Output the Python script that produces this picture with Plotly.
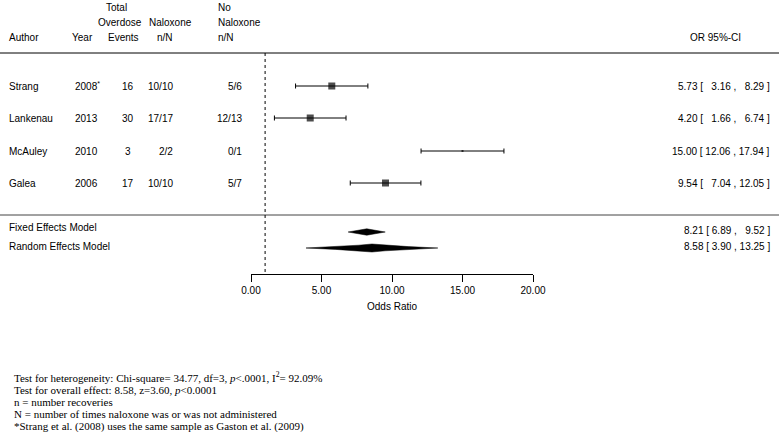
import plotly.graph_objects as go

# ---------------- data ----------------
authors = ["Strang", "Lankenau", "McAuley", "Galea"]
years = ["2008<sup>*</sup>", "2013", "2010", "2006"]
events = [16, 30, 3, 17]
naloxone_nN = ["10/10", "17/17", "2/2", "10/10"]
no_naloxone_nN = ["5/6", "12/13", "0/1", "5/7"]
or_est = [5.73, 4.20, 15.00, 9.54]
ci_lo = [3.16, 1.66, 12.06, 7.04]
ci_hi = [8.29, 6.74, 17.94, 12.05]

models = ["Fixed Effects Model", "Random Effects Model"]
model_est = [8.21, 8.58]
model_lo = [6.89, 3.90]
model_hi = [9.52, 13.25]

tick_vals = [0, 5, 10, 15, 20]
axis_title = "Odds Ratio"

footnotes = [
    "Test for heterogeneity: Chi-square= 34.77, df=3, <i>p</i>&lt;.0001, I<sup>2</sup>= 92.09%",
    "Test for overall effect: 8.58, z=3.60, <i>p</i>&lt;0.0001",
    "n = number recoveries",
    "N = number of times naloxone was or was not administered",
    "*Strang et al. (2008) uses the same sample as Gaston et al. (2009)",
]

# ---------------- layout constants (pixels) ----------------
W, H = 779, 432
study_y = [86, 118, 151, 183]
model_text_y = [227, 246]
model_diamond_y = [232, 248]
model_half_h = [3.2, 4.0]
model_concave = [False, True]
box_px = [7, 7, 2, 7]
SANS = "Liberation Sans, Arial, Helvetica, sans-serif"
SERIF = "Liberation Serif, Times New Roman, serif"


def px(x):
    return x / W


def fmt_col(vals):
    wide = any(v >= 10 for v in vals)
    out = []
    for v in vals:
        s = f"{v:.2f}"
        if wide and v < 10:
            s = "\u00a0\u00a0" + s
        out.append(s)
    return out


fig = go.Figure()

# study CIs + boxes
fig.add_trace(go.Scatter(
    x=or_est, y=study_y, mode="markers",
    marker=dict(symbol="square", size=box_px, color="black", line=dict(width=0)),
    error_x=dict(type="data", symmetric=False,
                 array=[h - e for h, e in zip(ci_hi, or_est)],
                 arrayminus=[e - l for e, l in zip(or_est, ci_lo)],
                 color="black", thickness=1, width=2.5),
    hoverinfo="skip", showlegend=False,
))

# summary diamonds
for est, lo, hi, yc, hh, concave in zip(model_est, model_lo, model_hi,
                                         model_diamond_y, model_half_h, model_concave):
    if concave:
        fr = [1.0, 0.55, 0.2, 0.0]
        hf = [0.0, 0.35, 0.7, 1.0]
        top_x = [est - f * (est - lo) for f in fr] + [est + f * (hi - est) for f in fr[::-1][1:]]
        top_y = [yc - h * hh for h in hf] + [yc - h * hh for h in hf[::-1][1:]]
        bot_x = top_x[::-1][1:]
        bot_y = [2 * yc - v for v in top_y[::-1][1:]]
        xs, ys = top_x + bot_x, top_y + bot_y
    else:
        xs = [lo, est, hi, est, lo]
        ys = [yc, yc - hh, yc, yc + hh, yc]
    fig.add_trace(go.Scatter(
        x=xs, y=ys, mode="lines", fill="toself", fillcolor="black",
        line=dict(color="black", width=0.5),
        hoverinfo="skip", showlegend=False,
    ))

ann = []


def text(x, y, s, anchor="left", size=10, family=SANS):
    ann.append(dict(x=px(x), y=y, xref="paper", yref="y", text=s, showarrow=False,
                    xanchor=anchor, yanchor="middle",
                    font=dict(family=family, size=size, color="black")))


# header
hy = [7, 22, 37]
text(116, hy[0], "Total", "center")
text(216, hy[0], "No", "left")
text(120, hy[1], "Overdose", "center")
text(170, hy[1], "Naloxone", "center")
text(216, hy[1], "Naloxone", "left")
text(7, hy[2], "Author", "left")
text(82, hy[2], "Year", "center")
text(123, hy[2], "Events", "center")
text(165, hy[2], "n/N", "center")
text(216, hy[2], "n/N", "left")
text(715, hy[2], "OR 95%-CI", "center")

lo_s = fmt_col(ci_lo)
hi_s = fmt_col(ci_hi)
for i, y in enumerate(study_y):
    text(7, y, authors[i], "left")
    text(73, y, years[i], "left")
    text(128, y, str(events[i]), "center")
    text(175, y, naloxone_nN[i], "right")
    text(244, y, no_naloxone_nN[i], "right")
    text(772, y, f"{or_est[i]:.2f} [ {lo_s[i]} , {hi_s[i]} ]", "right")

mlo_s = fmt_col(model_lo)
mhi_s = fmt_col(model_hi)
for i in range(len(models)):
    text(7, model_text_y[i], models[i], "left")
    text(772, model_diamond_y[i] - 2, f"{model_est[i]:.2f} [ {mlo_s[i]} , {mhi_s[i]} ]", "right")

text(392, 306, axis_title, "center")

foot_y = [377, 389.5, 402, 414, 426]
for s, y in zip(footnotes, foot_y):
    text(12, y, s, "left", size=11, family=SERIF)

shapes = [
    dict(type="line", xref="paper", yref="y", x0=0, x1=1, y0=53, y1=53,
         line=dict(color="black", width=1)),
    dict(type="line", xref="paper", yref="y", x0=0, x1=1, y0=215, y1=215,
         line=dict(color="#444444", width=1)),
    dict(type="line", xref="x", yref="y", x0=1, x1=1, y0=53, y1=274,
         line=dict(color="black", width=1, dash="dot")),
]

fig.update_layout(
    width=W, height=H,
    margin=dict(l=0, r=0, t=0, b=0),
    paper_bgcolor="white", plot_bgcolor="white",
    showlegend=False,
    annotations=ann, shapes=shapes,
    xaxis=dict(domain=[251 / W, 533 / W], range=[0, 20], anchor="free",
               position=1 - 274 / H, showline=True, linecolor="black", linewidth=1,
               ticks="outside", ticklen=7, tickwidth=1, tickcolor="black",
               tickvals=tick_vals, ticktext=[f"{t:.2f}" for t in tick_vals],
               tickfont=dict(family=SANS, size=10, color="black"),
               showgrid=False, zeroline=False, automargin=False, fixedrange=True),
    yaxis=dict(domain=[0, 1], range=[H, 0], visible=False, showgrid=False,
               zeroline=False, fixedrange=True, automargin=False),
)

fig.write_html("out.html", config={"displayModeBar": False},
               post_script="document.body.style.margin='0';document.body.style.padding='0';")
